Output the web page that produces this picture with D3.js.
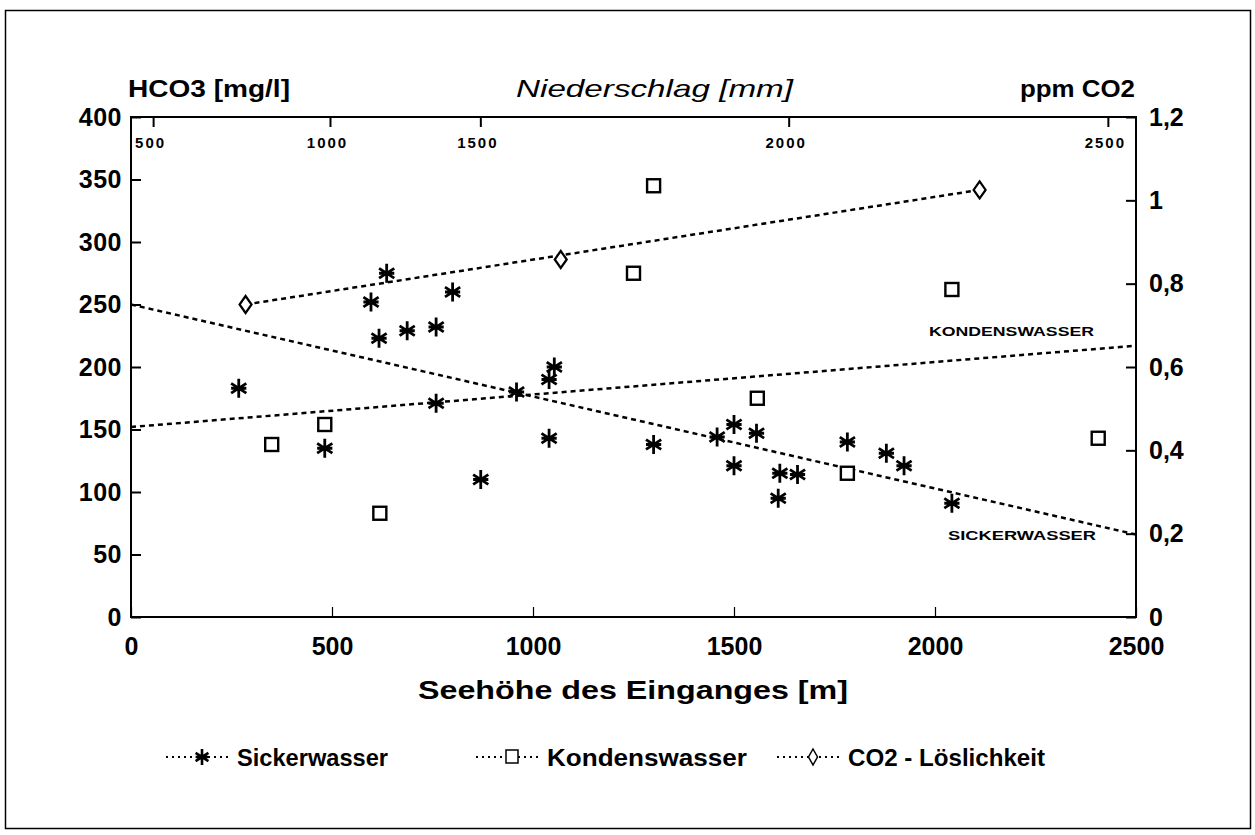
<!DOCTYPE html>
<html><head><meta charset="utf-8">
<script src="https://cdn.jsdelivr.net/npm/d3@7"></script>
<style>
html,body{margin:0;padding:0;background:#fff;}
svg text{font-family:"Liberation Sans",Arial,sans-serif;fill:#000;}
</style></head>
<body>
<svg id="c" width="1255" height="835"></svg>
<script>
// ---- data ----
const sickerElev = [268,482,597,617,636,687,759,759,800,870,959,1040,1040,1053,1300,1458,1500,1500,1556,1610,1614,1658,1782,1879,1923,2042];
const sickerHCO3 = [183,135,252,223,275,229,232,171,260,110,180,143,190,200,138,144,154,121,147,95,115,114,140,131,121,91];
const kondElev = [350,482,619,1250,1300,1558,1782,2042,2406];
const kondHCO3 = [138,154,83,275,345,175,115,262,143];
const co2Elev = [285,1069,2111];
const co2ppm = [0.75,0.858,1.025];
const sickerTrendElev = [0,2500];
const sickerTrendHCO3 = [250,66];
const kondTrendElev = [0,2500];
const kondTrendHCO3 = [152,217];
const co2TrendElev = [285,2111];
const co2TrendPpm = [0.75,1.025];
const xTicks = [0,500,1000,1500,2000,2500];
const yLeftTicks = [0,50,100,150,200,250,300,350,400];
const yRightTicks = [0,0.2,0.4,0.6,0.8,1,1.2];
const yRightLabels = ["0","0,2","0,4","0,6","0,8","1","1,2"];
const topTickLabels = [500,1000,1500,2000,2500];       // Niederschlag [mm]
const topTickElevPos = [55,495,869,1636,2430];        // where they sit on the elevation axis
const legendNames = ["Sickerwasser","Kondenswasser","CO2 - Löslichkeit"];

// ---- layout ----
const L=131,R=1136,T=117,B=617;
const svg=d3.select("#c");
const x=d3.scaleLinear().domain([0,2500]).range([L,R]);
const yL=d3.scaleLinear().domain([0,400]).range([B,T]);
const yR=d3.scaleLinear().domain([0,1.2]).range([B,T]);
const xTop=d3.scaleLinear().domain(topTickLabels).range(topTickElevPos.map(v=>x(v)));

// outer frame
svg.append("rect").attr("x",5.5).attr("y",10.5).attr("width",1245).attr("height",818)
  .attr("fill","none").attr("stroke","#000").attr("stroke-width",1.5);

// axes
function styleAxis(g,fs){
  g.select(".domain").remove();
  g.selectAll(".tick line").attr("stroke","#000").attr("stroke-width",2);
  g.selectAll(".tick text").attr("font-size",fs).attr("font-weight","bold").attr("fill","#000");
}
const gl=svg.append("g").attr("transform",`translate(${L},0)`)
  .call(d3.axisLeft(yL).tickValues(yLeftTicks).tickSize(-10).tickPadding(9).tickFormat(d3.format("d")));
styleAxis(gl,25);
gl.selectAll(".tick text").attr("letter-spacing","0.5px");
const gr=svg.append("g").attr("transform",`translate(${R},0)`)
  .call(d3.axisRight(yR).tickValues(yRightTicks).tickSize(-10).tickPadding(13).tickFormat((d,i)=>yRightLabels[i]));
styleAxis(gr,25);
const gb=svg.append("g").attr("transform",`translate(0,${B})`)
  .call(d3.axisBottom(x).tickValues(xTicks).tickSize(-10).tickPadding(20).tickFormat(d3.format("d")));
styleAxis(gb,25);
gb.selectAll(".tick line").attr("stroke-width",1.2);
const gt=svg.append("g").attr("transform",`translate(0,${T})`)
  .call(d3.axisBottom(xTop).tickValues(topTickLabels).tickSize(10).tickPadding(10).tickFormat(d3.format("d")));
styleAxis(gt,15);
gt.selectAll(".tick text").attr("letter-spacing","2px").attr("dx","-3");

// plot border
svg.append("rect").attr("x",L).attr("y",T).attr("width",R-L).attr("height",B-T)
  .attr("fill","none").attr("stroke","#000").attr("stroke-width",2);

// titles
function txt(xp,yp,fs,s,opts){
  const t=svg.append("text").attr("x",xp).attr("y",yp).attr("font-size",fs).text(s);
  Object.entries(opts||{}).forEach(([k,v])=>t.attr(k,v));
  return t;
}
txt(128,97,24,"HCO3 [mg/l]",{"font-weight":"bold","textLength":162,"lengthAdjust":"spacingAndGlyphs"});
txt(516,97,24,"Niederschlag [mm]",{"font-style":"italic","textLength":277,"lengthAdjust":"spacingAndGlyphs"});
txt(1020,97,24,"ppm CO2",{"font-weight":"bold","textLength":115,"lengthAdjust":"spacingAndGlyphs"});
txt(418,699,26,"Seehöhe des Einganges [m]",{"font-weight":"bold","textLength":430,"lengthAdjust":"spacingAndGlyphs"});

// trend lines
const dash="5,4";
function trend(xs,ys,yscale){
  svg.append("path").datum(xs.map((v,i)=>[v,ys[i]]))
    .attr("d",d3.line().x(d=>x(d[0])).y(d=>yscale(d[1])))
    .attr("fill","none").attr("stroke","#000").attr("stroke-width",2.5).attr("stroke-dasharray",dash);
}
trend(sickerTrendElev,sickerTrendHCO3,yL);
trend(kondTrendElev,kondTrendHCO3,yL);
trend(co2TrendElev,co2TrendPpm,yR);

// line labels
txt(929,336,12.5,"KONDENSWASSER",{"font-weight":"bold","textLength":165,"lengthAdjust":"spacingAndGlyphs"});
txt(948,540,12.5,"SICKERWASSER",{"font-weight":"bold","textLength":148,"lengthAdjust":"spacingAndGlyphs"});

// markers
function star(g,r,sw){
  const a=r*0.8;
  g.append("path").attr("d",`M0,${-r}V${r}M${-a},${-a*0.65}L${a},${a*0.65}M${-a},${a*0.65}L${a},${-a*0.65}M${-r*0.8},0H${r*0.8}`)
   .attr("stroke","#000").attr("stroke-width",sw).attr("fill","none");
}
function square(g,s){
  g.append("rect").attr("x",-s/2).attr("y",-s/2).attr("width",s).attr("height",s)
   .attr("fill","#fff").attr("stroke","#000").attr("stroke-width",2.4);
}
function diamond(g,w,h){
  g.append("path").attr("d",`M0,${-h/2}L${w/2},0L0,${h/2}L${-w/2},0Z`)
   .attr("fill","#fff").attr("stroke","#000").attr("stroke-width",2.2);
}
svg.append("g").selectAll("g").data(sickerElev.map((v,i)=>[v,sickerHCO3[i]])).join("g")
  .attr("transform",d=>`translate(${x(d[0])},${yL(d[1])})`).each(function(){star(d3.select(this),9.5,2.8);});
svg.append("g").selectAll("g").data(kondElev.map((v,i)=>[v,kondHCO3[i]])).join("g")
  .attr("transform",d=>`translate(${x(d[0])},${yL(d[1])})`).each(function(){square(d3.select(this),13);});
svg.append("g").selectAll("g").data(co2Elev.map((v,i)=>[v,co2ppm[i]])).join("g")
  .attr("transform",d=>`translate(${x(d[0])},${yR(d[1])})`).each(function(){diamond(d3.select(this),12,17);});

// legend
const legX=[166,476,777];
const legW=[151,200,197];
const legY=757;
legendNames.forEach((name,i)=>{
  const g=svg.append("g").attr("transform",`translate(${legX[i]},${legY})`);
  g.append("line").attr("x1",0).attr("x2",62).attr("y1",0).attr("y2",0)
   .attr("stroke","#000").attr("stroke-width",1.8).attr("stroke-dasharray","2,4");
  const m=g.append("g").attr("transform","translate(36,0)");
  if(i===0) star(m,8,2.6);
  else if(i===1){ m.append("rect").attr("x",-6).attr("y",-7).attr("width",12).attr("height",13).attr("fill","#fff").attr("stroke","#000").attr("stroke-width",1.5);}
  else { m.append("path").attr("d","M0,-8L4.5,0L0,8L-4.5,0Z").attr("fill","#fff").attr("stroke","#000").attr("stroke-width",1.5);}
  txt(legX[i]+71,legY+9,23,name,{"font-weight":"bold","textLength":legW[i],"lengthAdjust":"spacingAndGlyphs"});
});
</script>
</body></html>
